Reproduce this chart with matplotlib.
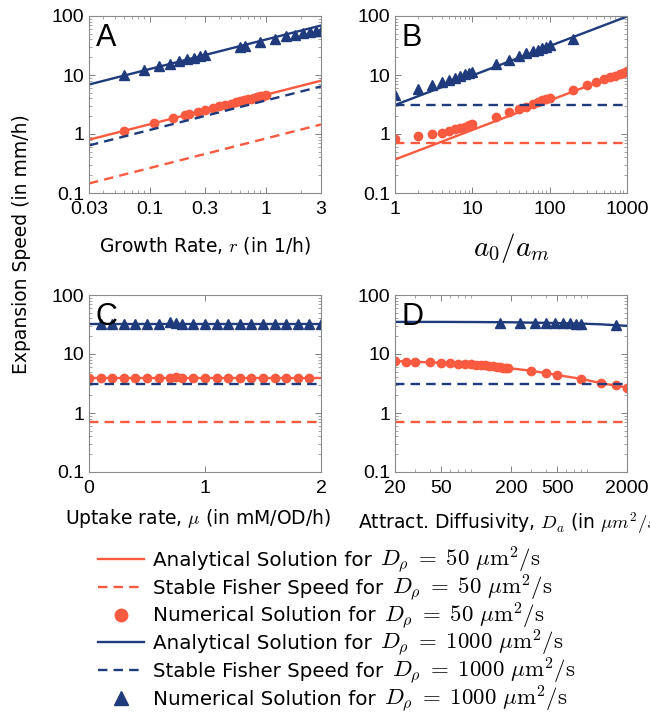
import matplotlib.pyplot as plt
from matplotlib.ticker import LogLocator, NullFormatter

plt.rcParams['font.family'] = 'DejaVu Sans'
plt.rcParams['mathtext.fontset'] = 'cm'

RED = '#fa5a40'
BLUE = '#1f3b7c'

# Panel A : growth rate r (1/h)
r_line = [0.03, 3]
a_red_an = [0.8, 8.0]
a_red_fs = [0.145, 1.45]
a_blue_an = [6.9, 69]
a_blue_fs = [0.64, 6.4]
r_red_num = [0.06, 0.11, 0.16, 0.2, 0.22, 0.26, 0.3, 0.35, 0.4, 0.45, 0.5,
             0.55, 0.6, 0.65, 0.7, 0.75, 0.8, 0.85, 0.9, 0.95, 1.0]
a_red_num = [1.12, 1.55, 1.88, 2.08, 2.2, 2.38, 2.55, 2.75, 2.93, 3.1, 3.27,
             3.42, 3.57, 3.72, 3.85, 3.98, 4.1, 4.23, 4.35, 4.47, 4.6]
r_blue_num = [0.06, 0.09, 0.12, 0.15, 0.18, 0.21, 0.24, 0.27, 0.3,
              0.6, 0.66, 0.9, 1.2, 1.5, 1.8, 2.1, 2.4, 2.7, 3.0]
a_blue_num = [9.9, 12.1, 14.0, 15.6, 17.1, 18.5, 19.7, 20.9, 22.0,
              30.0, 31.5, 36.0, 41.0, 45.0, 48.0, 51.0, 53.0, 55.0, 56.0]

# Panel B : a0/am
am_line = [1, 1000]
b_red_an = [0.37, 11.7]
b_red_fs = [0.71, 0.71]
b_blue_an = [3.1, 98]
b_blue_fs = [3.1, 3.1]
am_red_num = [1, 2, 3, 4, 5, 6, 7, 8, 9, 10, 20, 30, 40, 50, 60, 70, 80, 90,
              100, 200, 300, 400, 500, 600, 700, 800, 900, 1000]
b_red_num = [0.82, 0.92, 1.0, 1.06, 1.12, 1.2, 1.27, 1.33, 1.4, 1.46, 1.95,
             2.35, 2.65, 2.9, 3.2, 3.45, 3.7, 3.9, 4.1, 5.6, 6.7, 7.6, 8.4,
             9.1, 9.8, 10.4, 11.0, 11.6]
am_blue_num = [1, 2, 3, 4, 5, 6, 7, 8, 9, 10, 20, 30, 40, 50, 60, 70, 80, 90,
               100, 200]
b_blue_num = [4.6, 5.9, 6.8, 7.6, 8.3, 9.0, 9.6, 10.2, 10.8, 11.4, 15.2, 18.3,
              21.0, 23.2, 25.2, 27.0, 28.7, 30.2, 31.7, 41.0]

# Panel C : uptake rate mu
mu_line = [0, 2]
c_red_an = [3.95, 3.95]
c_red_fs = [0.71, 0.71]
c_blue_an = [32.5, 32.5]
c_blue_fs = [3.15, 3.15]
mu_red_num = [0, 0.1, 0.2, 0.3, 0.4, 0.5, 0.6, 0.7, 0.75, 0.8, 0.9, 1.0, 1.1,
              1.2, 1.3, 1.4, 1.5, 1.6, 1.7, 1.8, 1.9]
c_red_num = [3.95, 3.95, 3.95, 3.95, 3.95, 3.95, 3.95, 3.95, 4.0, 3.95, 3.95,
             3.95, 3.95, 3.95, 3.95, 3.95, 3.95, 3.95, 3.95, 3.95, 3.95]
mu_blue_num = [0.1, 0.2, 0.3, 0.4, 0.5, 0.6, 0.7, 0.75, 0.8, 0.9, 1.0, 1.1,
               1.2, 1.3, 1.4, 1.5, 1.6, 1.7, 1.8, 1.9, 2.0]
c_blue_num = [32.5, 32.5, 32.5, 32.5, 32.5, 32.5, 35.0, 33.0, 32.5, 32.5, 32.5,
              32.5, 32.5, 32.5, 32.5, 32.5, 32.5, 32.5, 32.5, 32.5, 32.5]

# Panel D : attractant diffusivity Da
da_line = [20, 50, 100, 200, 300, 500, 800, 1200, 2000]
d_red_an = [7.6, 7.1, 6.6, 5.7, 5.2, 4.4, 3.8, 3.2, 2.7]
d_red_fs = [0.71] * 9
d_blue_an = [35, 35, 34.8, 34.5, 34.0, 33.5, 32.8, 31.8, 30.0]
d_blue_fs = [3.15] * 9
da_red_num = [20, 25, 30, 40, 50, 60, 70, 80, 90, 100, 110, 120, 130, 140, 150,
              160, 170, 180, 190, 300, 400, 500, 800, 1200, 1600, 2000]
d_red_num = [7.6, 7.2, 7.4, 7.2, 7.0, 7.0, 6.9, 6.8, 6.7, 6.6, 6.5, 6.4, 6.3,
             6.2, 6.1, 6.0, 5.9, 5.8, 5.7, 5.2, 4.7, 4.4, 3.8, 3.2, 2.95, 2.7]
da_blue_num = [160, 240, 320, 400, 480, 560, 640, 720, 800, 1600]
d_blue_num = [33.5, 33.5, 33.3, 33.3, 33.2, 33.0, 33.0, 32.8, 32.6, 30.8]

legend_words = ['Analytical Solution for', 'Stable Fisher Speed for',
                'Numerical Solution for', 'Analytical Solution for',
                'Stable Fisher Speed for', 'Numerical Solution for']
legend_math = [r'$D_\rho\;=\;50\ \mu\mathrm{m}^2/\mathrm{s}$'] * 3 + \
              [r'$D_\rho\;=\;1000\ \mu\mathrm{m}^2/\mathrm{s}$'] * 3

panels = [
    ('A', r_line, a_red_an, a_red_fs, a_blue_an, a_blue_fs,
     r_red_num, a_red_num, r_blue_num, a_blue_num),
    ('B', am_line, b_red_an, b_red_fs, b_blue_an, b_blue_fs,
     am_red_num, b_red_num, am_blue_num, b_blue_num),
    ('C', mu_line, c_red_an, c_red_fs, c_blue_an, c_blue_fs,
     mu_red_num, c_red_num, mu_blue_num, c_blue_num),
    ('D', da_line, d_red_an, d_red_fs, d_blue_an, d_blue_fs,
     da_red_num, d_red_num, da_blue_num, d_blue_num),
]

fig = plt.figure(figsize=(6.5, 7.13), dpi=100)
W, H = 650, 713
boxes = {'A': (89, 16), 'B': (395, 16), 'C': (89, 295), 'D': (395, 295)}
aw, ah = 232, 177

lw = 1.7
dash = (0, (4, 2.6))
handles = []
for name, xl, ra, rf, ba, bf, xr, yr, xb, yb in panels:
    x0, y0 = boxes[name]
    ax = fig.add_axes([x0 / W, 1 - (y0 + ah) / H, aw / W, ah / H])
    h1, = ax.plot(xl, ra, color=RED, lw=lw)
    h2, = ax.plot(xl, rf, color=RED, lw=lw, linestyle=dash)
    h3, = ax.plot(xr, yr, 'o', color=RED, ms=6, lw=0)
    h4, = ax.plot(xl, ba, color=BLUE, lw=lw)
    h5, = ax.plot(xl, bf, color=BLUE, lw=lw, linestyle=dash)
    h6, = ax.plot(xb, yb, '^', color=BLUE, ms=6.5, lw=0)
    if name == 'A':
        handles = [h1, h2, h3, h4, h5, h6]

    ax.set_yscale('log')
    ax.set_ylim(0.1, 100)
    ax.set_yticks([0.1, 1, 10, 100], ['0.1', '1', '10', '100'])
    ax.yaxis.set_minor_locator(LogLocator(subs=range(2, 10)))
    ax.yaxis.set_minor_formatter(NullFormatter())

    if name == 'A':
        ax.set_xscale('log')
        ax.set_xlim(0.03, 3)
        ax.set_xticks([0.03, 0.1, 0.3, 1, 3], ['0.03', '0.1', '0.3', '1', '3'])
        ax.set_xlabel('Growth Rate, $r$ (in 1/h)', fontsize=13.5, va='center')
        ax.xaxis.set_label_coords(0.5, -0.294)
    elif name == 'B':
        ax.set_xscale('log')
        ax.set_xlim(1, 1000)
        ax.set_xticks([1, 10, 100, 1000], ['1', '10', '100', '1000'])
        ax.set_xlabel('$a_0/a_m$', fontsize=21, va='center')
        ax.xaxis.set_label_coords(0.5, -0.31)
    elif name == 'C':
        ax.set_xlim(0, 2)
        ax.set_xticks([0, 1, 2], ['0', '1', '2'])
        ax.set_xlabel(r'Uptake rate, $\mu$ (in mM/OD/h)', fontsize=13.5,
                      va='center')
        ax.xaxis.set_label_coords(0.47, -0.26)
    else:
        ax.set_xscale('log')
        ax.set_xlim(20, 2000)
        ax.set_xticks([20, 50, 200, 500, 2000],
                      ['20', '50', '200', '500', '2000'])
        ax.set_xlabel(r'Attract. Diffusivity, $D_a$ (in $\mu m^2/s$)',
                      fontsize=13.5, va='center')
        ax.xaxis.set_label_coords(0.5, -0.29)
    if name != 'C':
        ax.xaxis.set_minor_formatter(NullFormatter())

    ax.tick_params(which='both', direction='in', top=True, right=True,
                   color='#808080', labelsize=14,
                   labelfontfamily='Liberation Sans')
    ax.tick_params(which='major', length=4, width=0.7)
    ax.tick_params(which='minor', length=2, width=0.5)
    ax.tick_params(axis='x', pad=6)
    for s in ax.spines.values():
        s.set_color('#8a8a8a')
        s.set_linewidth(0.8)

    ax.text(0.03, 0.96, name, transform=ax.transAxes, fontsize=22,
            family='Liberation Sans', va='top', ha='left')

fig.text(22 / W, 1 - 244 / H, 'Expansion Speed (in mm/h)', rotation=90,
         fontsize=13.5, va='center', ha='center')

# legend: words in sans, the formula part added right after each word label
leg = fig.legend(handles, legend_words, loc='upper left',
                 bbox_to_anchor=(98 / W, 1 - 551 / H), frameon=False,
                 fontsize=14.3, handlelength=2.3, handletextpad=0.45,
                 labelspacing=0.44, borderpad=0, borderaxespad=0,
                 markerscale=1.5)
fig.canvas.draw()
inv = fig.transFigure.inverted()
for t, m in zip(leg.get_texts(), legend_math):
    bb = t.get_window_extent()
    xd, yd = t.get_transform().transform(t.get_position())
    fx, fy = inv.transform((bb.x1 + 9, yd))
    fig.text(fx, fy, m, fontsize=16.5, va='baseline', ha='left')

fig.savefig('out.png', dpi=100)
